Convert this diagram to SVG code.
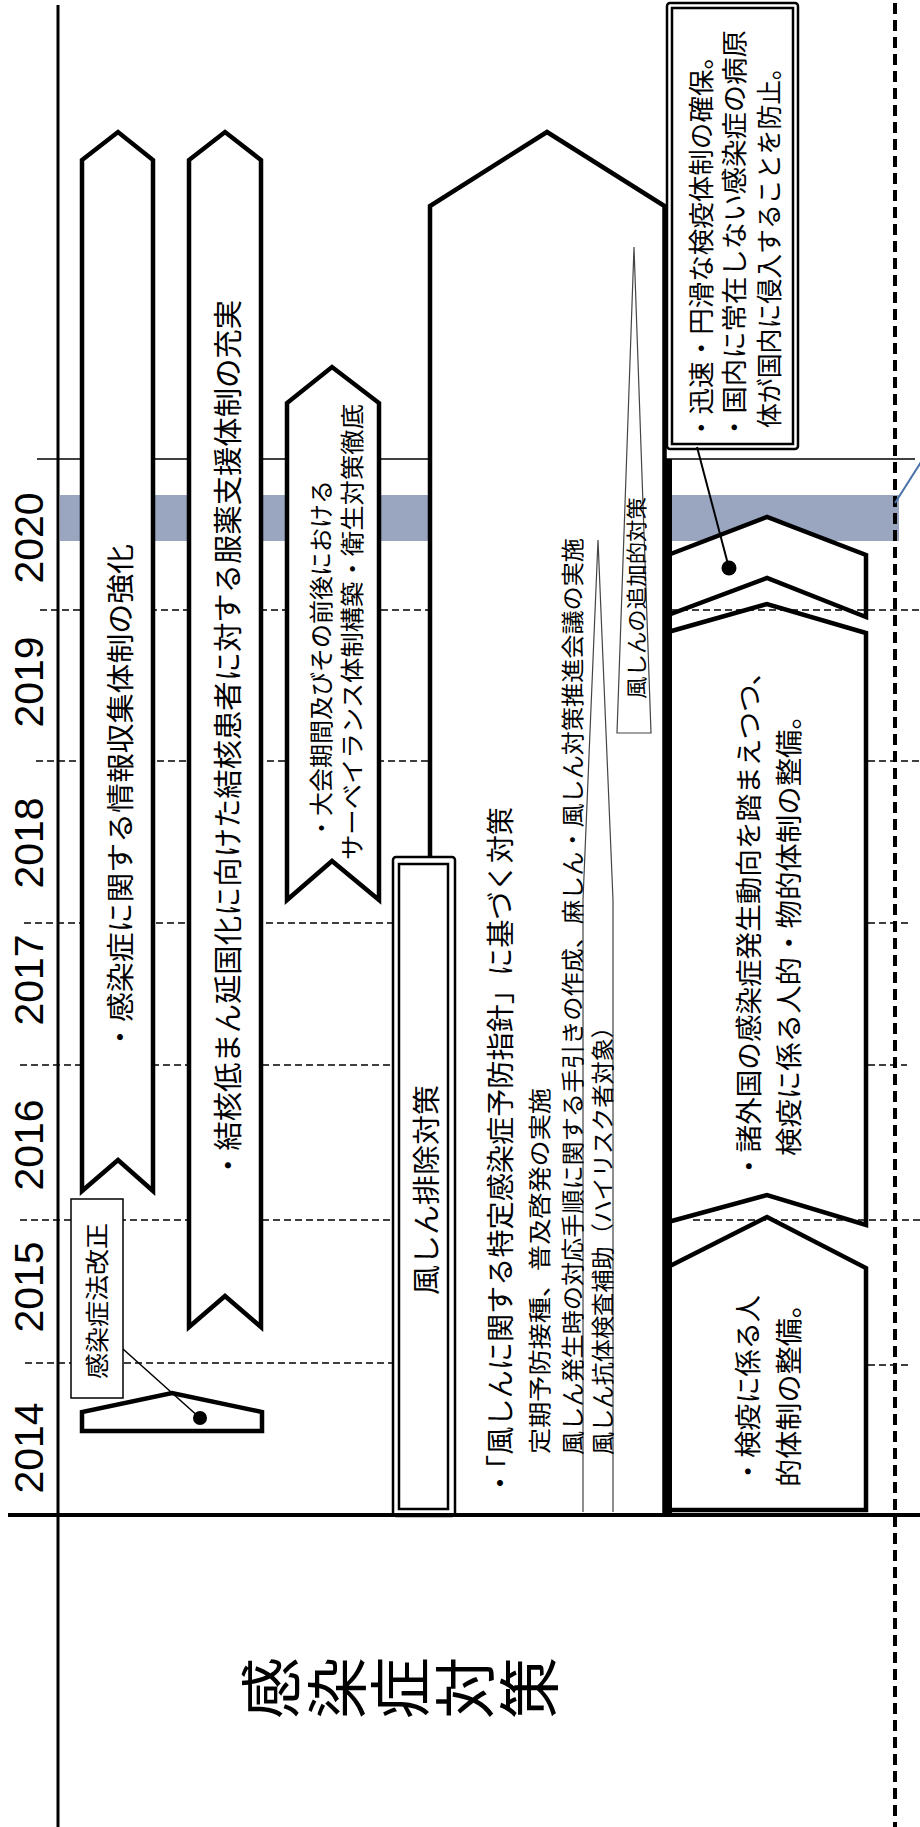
<svg xmlns="http://www.w3.org/2000/svg" width="920" height="1827" viewBox="0 0 920 1827">
<style>
.t{font-family:"Noto Sans CJK JP","Noto Sans",sans-serif;fill:#000}
.yr{font-family:"Liberation Sans",Arial,sans-serif;font-size:41px;fill:#000}
.shape{fill:#fff;stroke:#000;stroke-width:4.5;stroke-linejoin:miter}
.thin{fill:none;stroke:#000;stroke-width:1.5}
.ydash{fill:none;stroke:#000;stroke-width:1.5;stroke-dasharray:7 4}
.spike{fill:#fff;stroke:#444;stroke-width:1.2}
.box2{fill:#fff;stroke:#000;stroke-width:2.5}
</style>
<rect width="920" height="1827" fill="#fff"/>
<g id="background">
  <line x1="58" y1="5" x2="58" y2="1827" stroke="#000" stroke-width="3"/>
  <line x1="37" y1="459" x2="915" y2="459" class="thin"/>
  <rect x="60" y="495" width="839" height="46" fill="#9aa5c0"/>
  <line x1="40" y1="610" x2="430" y2="610" class="ydash"/>
  <line x1="36" y1="761" x2="430" y2="761" class="ydash"/>
  <line x1="24" y1="923" x2="400" y2="923" class="ydash"/>
  <line x1="20" y1="1065" x2="400" y2="1065" class="ydash"/>
  <line x1="20" y1="1220" x2="400" y2="1220" class="ydash"/>
  <line x1="25" y1="1363" x2="400" y2="1363" class="ydash"/>
</g>
<g id="years">
  <text class="yr" text-anchor="middle" transform="translate(43,538) rotate(-90)">2020</text>
  <text class="yr" text-anchor="middle" transform="translate(43,682) rotate(-90)">2019</text>
  <text class="yr" text-anchor="middle" transform="translate(43,843) rotate(-90)">2018</text>
  <text class="yr" text-anchor="middle" transform="translate(43,980) rotate(-90)">2017</text>
  <text class="yr" text-anchor="middle" transform="translate(43,1145) rotate(-90)">2016</text>
  <text class="yr" text-anchor="middle" transform="translate(43,1287) rotate(-90)">2015</text>
  <text class="yr" text-anchor="middle" transform="translate(43,1448) rotate(-90)">2014</text>
</g>
<g id="title" class="t" font-size="62" text-anchor="middle">
  <text transform="translate(268,1688) rotate(-90)" dominant-baseline="central">感</text>
  <text transform="translate(334,1688) rotate(-90)" dominant-baseline="central">染</text>
  <text transform="translate(397,1688) rotate(-90)" dominant-baseline="central">症</text>
  <text transform="translate(462,1688) rotate(-90)" dominant-baseline="central">対</text>
  <text transform="translate(526,1688) rotate(-90)" dominant-baseline="central">策</text>
</g>
<g id="arrow-info">
  <path class="shape" d="M82,1191 L82,160 L118,132 L153,160 L153,1191 L118,1160 Z"/>
  <text class="t" font-size="28" textLength="508" lengthAdjust="spacingAndGlyphs" transform="translate(131,1052) rotate(-90)">・感染症に関する情報収集体制の強化</text>
</g>
<g id="arrow-tb">
  <path class="shape" d="M189,1327 L189,160 L225,132 L261,160 L261,1327 L225,1296 Z"/>
  <text class="t" font-size="29" textLength="880" lengthAdjust="spacingAndGlyphs" transform="translate(239,1180) rotate(-90)">・結核低まん延国化に向けた結核患者に対する服薬支援体制の充実</text>
</g>
<g id="arrow-event">
  <path class="shape" d="M287,900 L287,403 L332,367 L379,403 L379,900 L332,861 Z"/>
  <text class="t" font-size="24" textLength="360" lengthAdjust="spacingAndGlyphs" transform="translate(330,840) rotate(-90)">・大会期間及びその前後における</text>
  <text class="t" font-size="24" textLength="456" lengthAdjust="spacingAndGlyphs" transform="translate(361,860) rotate(-90)">サーベイランス体制構築・衛生対策徹底</text>
</g>
<g id="arrow-rubella">
  <path class="shape" d="M430,1514 L430,206 L547,132 L664.5,206 L664.5,1514"/>
  <text class="t" font-size="28" textLength="690" lengthAdjust="spacingAndGlyphs" transform="translate(511,1497) rotate(-90)">・「風しんに関する特定感染症予防指針」に基づく対策</text>
  <text class="t" font-size="23" textLength="366" lengthAdjust="spacingAndGlyphs" transform="translate(548,1454) rotate(-90)">定期予防接種、普及啓発の実施</text>
  <path class="spike" d="M583,1512 L583,900 L598,540 L613,900 L613,1512"/>
  <text class="t" font-size="23" textLength="917" lengthAdjust="spacingAndGlyphs" transform="translate(581,1455) rotate(-90)">風しん発生時の対応手順に関する手引きの作成、麻しん・風しん対策推進会議の実施</text>
  <text class="t" font-size="23" textLength="440" lengthAdjust="spacingAndGlyphs" transform="translate(611,1455) rotate(-90)">風しん抗体検査補助（ハイリスク者対象）</text>
</g>
<g id="spike-extra">
  <path class="spike" d="M634,247 L651,733 L617,733 Z"/>
  <text class="t" font-size="21" textLength="202" lengthAdjust="spacingAndGlyphs" transform="translate(644,699) rotate(-90)">風しんの追加的対策</text>
</g>
<g id="rubella-box">
  <rect class="box2" x="393" y="857" width="62" height="659" rx="3"/>
  <rect x="399" y="864" width="49" height="645" fill="none" stroke="#000" stroke-width="2.5"/>
  <text class="t" font-size="28" textLength="210" lengthAdjust="spacingAndGlyphs" transform="translate(437,1295) rotate(-90)">風しん排除対策</text>
</g>
<g id="law-2014">
  <path class="shape" d="M82,1431 L82,1412 L172,1393 L262,1412 L262,1431 Z"/>
</g>
<g id="law-label">
  <rect x="71" y="1199" width="52" height="199" fill="#fff" stroke="#000" stroke-width="1.5"/>
  <text class="t" font-size="24" textLength="156" lengthAdjust="spacingAndGlyphs" transform="translate(106,1379) rotate(-90)">感染症法改正</text>
</g>
<g id="quarantine">
  <line x1="668" y1="459" x2="668" y2="1514" stroke="#000" stroke-width="8"/>
  <path class="shape" d="M668,555 L767,517 L866,555 L866,617 L767,578 L668,615 Z"/>
  <path class="shape" d="M668,632 L767,604 L866,633 L866,1225 L767,1195 L668,1222 Z"/>
  <text class="t" font-size="27" textLength="522" lengthAdjust="spacingAndGlyphs" transform="translate(759,1180) rotate(-90)">・諸外国の感染症発生動向を踏まえつつ、</text>
  <text class="t" font-size="27" textLength="455" lengthAdjust="spacingAndGlyphs" transform="translate(799,1156) rotate(-90)">検疫に係る人的・物的体制の整備。</text>
  <path class="shape" d="M668,1267 L767,1217 L866,1268 L866,1510 L668,1510 Z"/>
  <text class="t" font-size="27" textLength="190" lengthAdjust="spacingAndGlyphs" transform="translate(758,1485) rotate(-90)">・検疫に係る人</text>
  <text class="t" font-size="27" textLength="197" lengthAdjust="spacingAndGlyphs" transform="translate(799,1487) rotate(-90)">的体制の整備。</text>
  <line x1="668" y1="459" x2="668" y2="1514" stroke="#000" stroke-width="8"/>
</g>
<g id="info-box">
  <rect class="box2" x="667" y="3" width="131" height="446" rx="3"/>
  <rect x="672" y="8" width="121" height="436" fill="none" stroke="#000" stroke-width="2.5"/>
  <text class="t" font-size="26" textLength="398" lengthAdjust="spacingAndGlyphs" transform="translate(711,441) rotate(-90)">・迅速・円滑な検疫体制の確保。</text>
  <text class="t" font-size="26" textLength="411" lengthAdjust="spacingAndGlyphs" transform="translate(744,441) rotate(-90)">・国内に常在しない感染症の病原</text>
  <text class="t" font-size="26" textLength="373" lengthAdjust="spacingAndGlyphs" transform="translate(779,428) rotate(-90)">体が国内に侵入することを防止。</text>
</g>
<g id="foreground">
  <line x1="670" y1="610" x2="920" y2="610" class="ydash"/>
  <line x1="868" y1="761" x2="920" y2="761" class="ydash"/>
  <line x1="868" y1="923" x2="910" y2="923" class="ydash"/>
  <line x1="868" y1="1065" x2="907" y2="1065" class="ydash"/>
  <line x1="693" y1="1220" x2="920" y2="1220" class="ydash"/>
  <line x1="868" y1="1365" x2="912" y2="1365" class="ydash"/>
  <line x1="895" y1="3" x2="895" y2="1827" stroke="#000" stroke-width="4" stroke-dasharray="11 6"/>
  <line x1="895" y1="503" x2="921" y2="462" stroke="#4a72a8" stroke-width="2"/>
  <line x1="8" y1="1515" x2="920" y2="1515" stroke="#000" stroke-width="4"/>
</g>
<g id="connectors">
  <line x1="123" y1="1349" x2="200" y2="1418" stroke="#000" stroke-width="1.5"/>
  <circle cx="200" cy="1418" r="7" fill="#000"/>
  <line x1="697" y1="447" x2="729" y2="568" stroke="#000" stroke-width="2"/>
  <circle cx="729" cy="568" r="7.5" fill="#000"/>
</g>
</svg>
